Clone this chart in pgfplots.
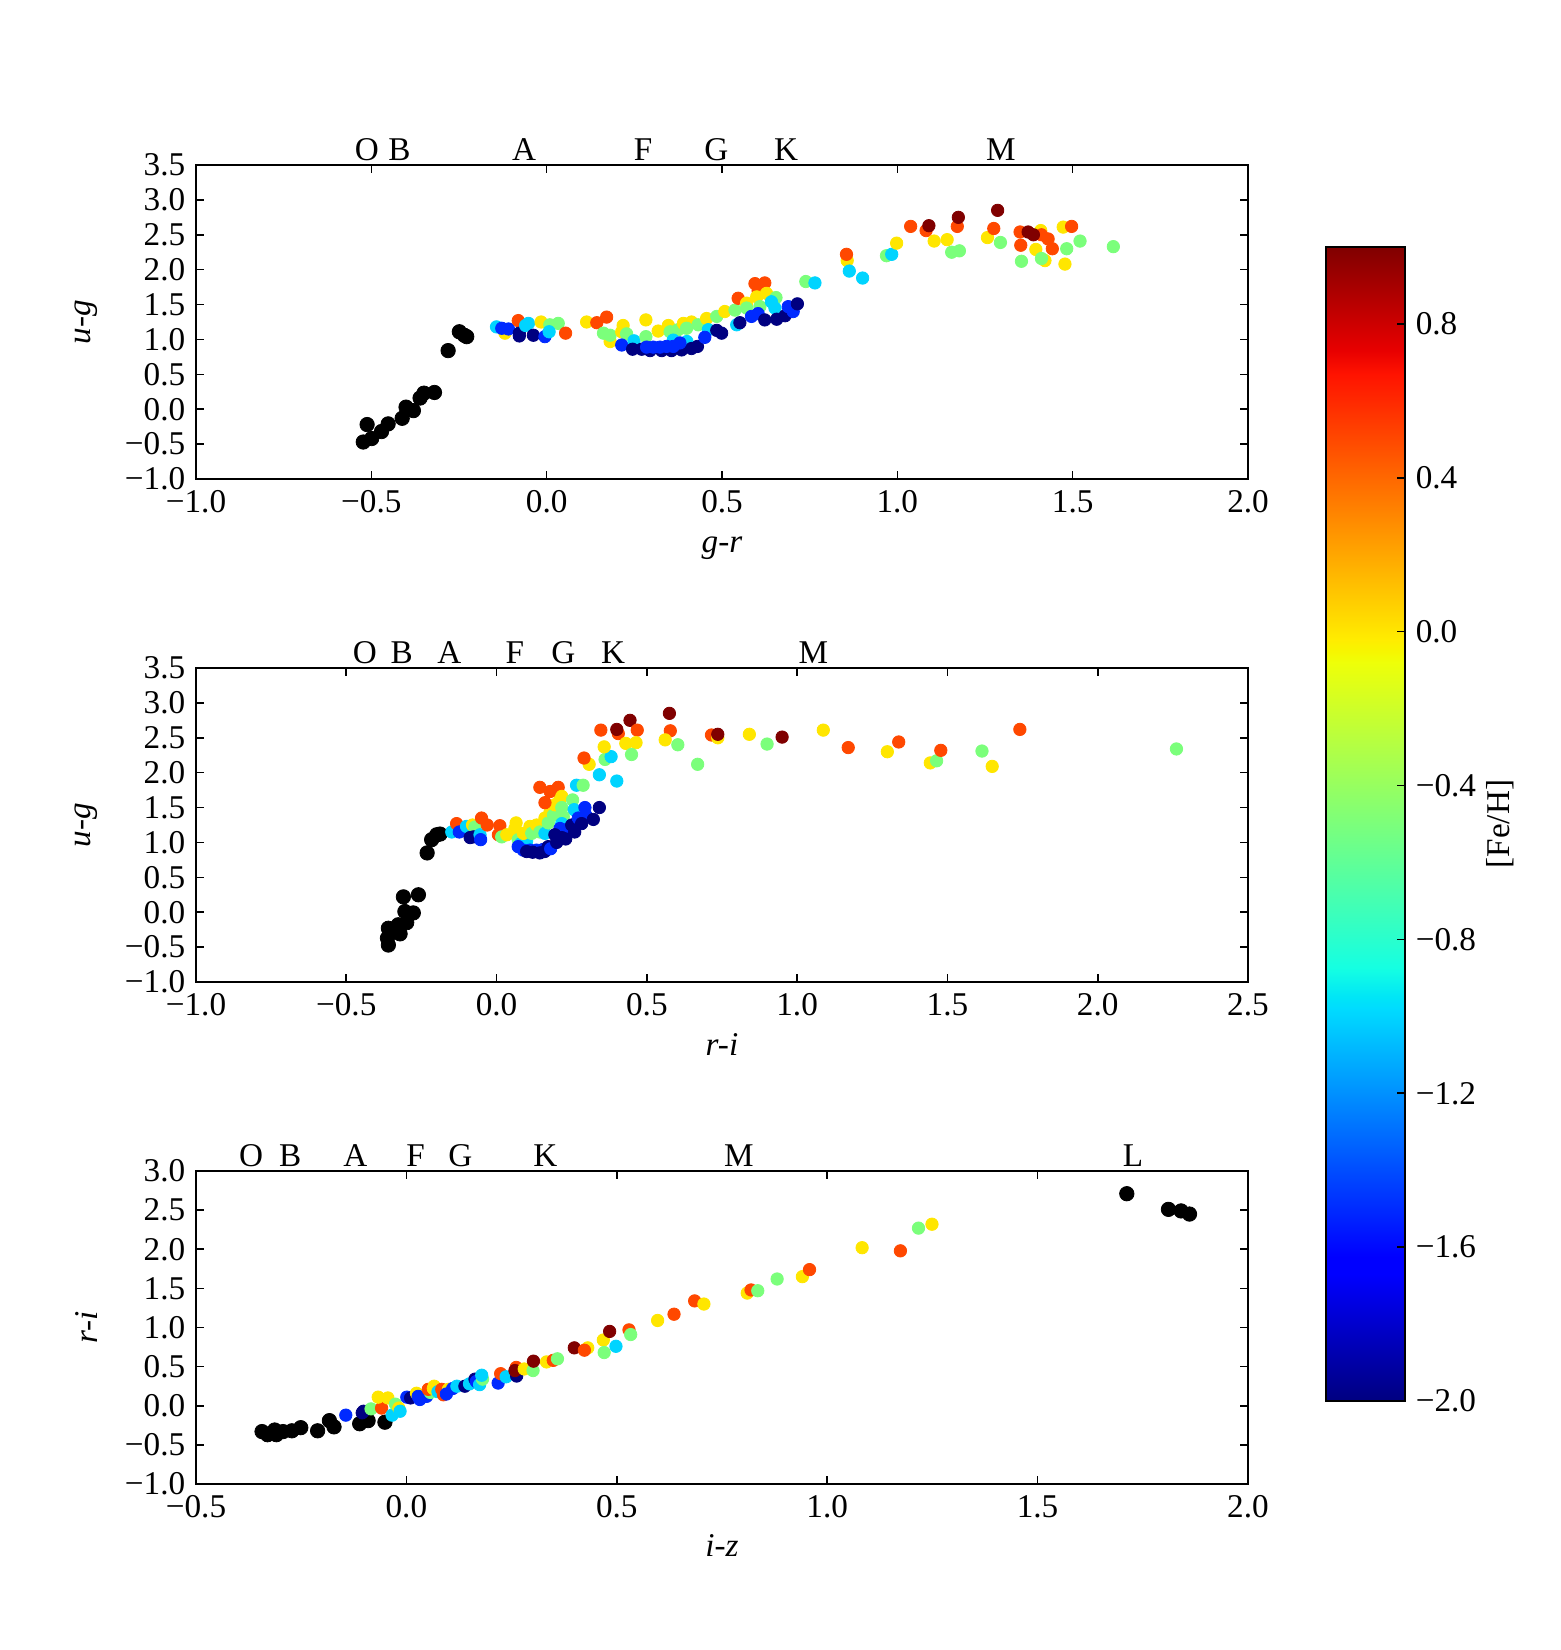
\documentclass[border=0pt]{standalone}
\usepackage{fontspec}
\setmainfont{Liberation Serif}
\usepackage{pgfplots}
\pgfplotsset{compat=1.18}

\newcommand\lbl{\fontsize{8.3}{10}\selectfont}

\tikzset{sptype/.style={anchor=base, inner sep=0pt, yshift=1.1pt, font=\lbl}}

% the same matplotlib-style jet ramp, once as a colormap for the markers
% and once as a vertical shading for the colour bar
\pgfdeclareverticalshading{mpljetbar}{100bp}{%
  rgb(0bp)=(0,0,0.5); rgb(25bp)=(0,0,0.5); rgb(30.5bp)=(0,0,1); rgb(31.25bp)=(0,0,1);
  rgb(42bp)=(0,0.86,1); rgb(42.5bp)=(0,0.9,0.968); rgb(43.75bp)=(0.081,1,0.887);
  rgb(57bp)=(0.935,1,0.032); rgb(57.5bp)=(0.968,0.963,0); rgb(58bp)=(1,0.926,0);
  rgb(69.5bp)=(1,0.074,0); rgb(70.5bp)=(0.909,0,0); rgb(75bp)=(0.5,0,0); rgb(100bp)=(0.5,0,0)}

\pgfplotsset{
  colormap={mpljet}{rgb(0pt)=(0,0,0.5) rgb(110pt)=(0,0,1) rgb(125pt)=(0,0,1)
    rgb(340pt)=(0,0.86,1) rgb(350pt)=(0,0.9,0.968) rgb(375pt)=(0.081,1,0.887)
    rgb(640pt)=(0.935,1,0.032) rgb(650pt)=(0.968,0.963,0) rgb(660pt)=(1,0.926,0)
    rgb(890pt)=(1,0.074,0) rgb(910pt)=(0.909,0,0) rgb(1000pt)=(0.5,0,0)},
  panel/.style={
    scale only axis, width=263pt, anchor=north west,
    tick align=inside, major tick length=2pt,
    axis line style={line width=0.5pt},
    every tick/.style={black, line width=0.4pt},
    minor tick num=0,
    clip=false,
    point meta min=-2, point meta max=1,
    colormap name=mpljet,
    tick label style={font=\lbl},
    label style={font=\lbl},
    xticklabel style={inner sep=0pt, yshift=-2.75pt, anchor=north},
    yticklabel style={inner sep=0pt, xshift=-2.5pt, anchor=east},
    xlabel style={at={(axis description cs:0.5,-0.2325)}, anchor=base, inner sep=0pt},
    ylabel style={at={(axis description cs:-0.093,0.5)}, anchor=south, inner sep=0pt},
  },
  colored/.style={scatter, only marks, mark=*, mark size=1.55pt, line width=0.2pt,
    scatter src=explicit,
    scatter/use mapped color={draw=mapped color, fill=mapped color}},
  stars/.style={only marks, mark=*, mark size=1.8pt, line width=0.2pt,
    draw=black, fill=black},
}

\begin{document}
\begin{tikzpicture}[font=\lbl]
\path[use as bounding box] (0,0) rectangle (390.25pt,-412.5pt);

% ---------------- u-g versus g-r ----------------
\begin{axis}[panel, at={(49pt,-41.25pt)}, height=78.5pt,
  xmin=-1, xmax=2, ymin=-1, ymax=3.5,
  xtick={-1,-0.5,0,0.5,1,1.5,2},
  xticklabels={−1.0,−0.5,0.0,0.5,1.0,1.5,2.0},
  ytick={-1,-0.5,0,0.5,1,1.5,2,2.5,3,3.5},
  yticklabels={−1.0,−0.5,0.0,0.5,1.0,1.5,2.0,2.5,3.0,3.5},
  xlabel={\textit{g-r}}, ylabel={\textit{u-g}},
]
\addplot[stars] table {
x y
-0.523 -0.47
-0.512 -0.22
-0.499 -0.42
-0.471 -0.32
-0.452 -0.21
-0.412 -0.13
-0.401 0.03
-0.380 -0.02
-0.361 0.16
-0.350 0.23
-0.320 0.24
-0.281 0.84
-0.249 1.11
-0.235 1.06
-0.228 1.04
};
\addplot[colored] table[meta=c] {
x y c
-0.143 1.18 -1
-0.119 1.09 0
-0.128 1.16 -1.5
-0.109 1.15 -1.5
-0.081 1.27 0.5
-0.078 1.09 -2
-0.078 1.05 -2
-0.060 1.20 -1
-0.052 1.23 -1
-0.038 1.06 -2
-0.016 1.25 0
0.009 1.21 -0.5
0.033 1.23 -0.5
-0.005 1.04 -1.5
0.007 1.11 -1
0.054 1.09 0.5
0.114 1.25 0
0.143 1.24 0.5
0.171 1.32 0.5
0.181 0.97 0
0.162 1.09 -0.5
0.181 1.06 -0.5
0.218 1.20 0
0.214 1.11 0
0.228 1.08 -0.5
0.214 0.92 -1.5
0.249 0.98 -1
0.245 0.86 -2
0.283 1.28 0
0.283 1.04 -0.5
0.318 1.12 0
0.347 1.20 0
0.352 1.11 -0.5
0.375 1.14 -0.5
0.390 1.23 0
0.413 1.25 0
0.399 1.16 -0.5
0.432 1.21 -0.5
0.361 0.99 -1
0.400 0.97 -1
0.271 0.86 -2
0.295 0.84 -2
0.328 0.84 -2
0.356 0.84 -2
0.385 0.85 -2
0.413 0.87 -2
0.430 0.90 -2
0.285 0.89 -1.5
0.304 0.89 -1.5
0.323 0.89 -1.5
0.342 0.90 -1.5
0.361 0.90 -1.5
0.380 0.95 -1.5
0.456 1.30 0
0.461 1.14 -1
0.451 1.03 -1.5
0.485 1.13 -2
0.499 1.09 -2
0.485 1.33 -0.5
0.508 1.40 0
0.537 1.42 -0.5
0.546 1.59 0.5
0.542 1.21 -1
0.551 1.24 -2
0.570 1.52 0
0.570 1.45 -0.5
0.594 1.80 0.5
0.622 1.81 0.5
0.603 1.70 0.5
0.599 1.61 0
0.627 1.66 0
0.654 1.60 -0.5
0.608 1.47 -0.5
0.641 1.54 -1
0.651 1.45 -1
0.603 1.37 -1.5
0.584 1.33 -1.5
0.622 1.28 -2
0.656 1.29 -2
0.680 1.34 -2
0.689 1.47 -1.5
0.703 1.40 -1.5
0.715 1.51 -2
0.739 1.83 -0.5
0.765 1.81 -1
0.857 2.13 0
0.855 2.22 0.5
0.863 1.98 -1
0.901 1.88 -1
0.969 2.20 -0.5
0.984 2.22 -1
0.998 2.38 0
1.038 2.62 0.5
1.082 2.56 0.5
1.090 2.63 1
1.105 2.41 0
1.142 2.43 0
1.155 2.25 -0.5
1.177 2.27 -0.5
1.171 2.62 0.5
1.174 2.75 1
1.257 2.46 0
1.275 2.59 0.5
1.286 2.85 1
1.294 2.39 -0.5
1.350 2.54 0.5
1.373 2.54 1
1.409 2.56 0
1.411 2.50 0.5
1.388 2.50 1
1.430 2.44 0.5
1.442 2.30 0.5
1.352 2.35 0.5
1.354 2.12 -0.5
1.395 2.29 0
1.421 2.13 0
1.411 2.16 -0.5
1.473 2.61 0
1.497 2.62 0.5
1.483 2.30 -0.5
1.478 2.08 0
1.521 2.41 -0.5
1.616 2.33 -0.5
};
\node[sptype] at (axis cs:-0.513,3.5) {O};
\node[sptype] at (axis cs:-0.420,3.5) {B};
\node[sptype] at (axis cs:-0.064,3.5) {A};
\node[sptype] at (axis cs:0.275,3.5) {F};
\node[sptype] at (axis cs:0.484,3.5) {G};
\node[sptype] at (axis cs:0.683,3.5) {K};
\node[sptype] at (axis cs:1.295,3.5) {M};
\end{axis}

% ---------------- u-g versus r-i ----------------
\begin{axis}[panel, at={(49pt,-167pt)}, height=78.5pt,
  xmin=-1, xmax=2.5, ymin=-1, ymax=3.5,
  xtick={-1,-0.5,0,0.5,1,1.5,2,2.5},
  xticklabels={−1.0,−0.5,0.0,0.5,1.0,1.5,2.0,2.5},
  ytick={-1,-0.5,0,0.5,1,1.5,2,2.5,3,3.5},
  yticklabels={−1.0,−0.5,0.0,0.5,1.0,1.5,2.0,2.5,3.0,3.5},
  xlabel={\textit{r-i}}, ylabel={\textit{u-g}},
]
\addplot[stars] table {
x y
-0.360 -0.47
-0.363 -0.37
-0.360 -0.23
-0.321 -0.31
-0.327 -0.18
-0.299 -0.15
-0.305 0.01
-0.277 -0.01
-0.310 0.22
-0.260 0.25
-0.231 0.85
-0.216 1.04
-0.199 1.11
-0.188 1.12
};
\addplot[colored] table[meta=c] {
x y c
-0.149 1.15 -1
-0.133 1.27 0.5
-0.124 1.15 -1.5
-0.100 1.23 -1
-0.080 1.25 0
-0.072 1.22 -0.5
-0.088 1.07 -2
-0.077 1.08 -2
-0.055 1.11 -1
-0.053 1.04 -1.5
-0.050 1.35 0.5
-0.031 1.25 0.5
0.011 1.24 0.5
0.006 1.11 0.5
0.017 1.08 -0.5
0.034 1.11 0
0.065 1.28 0
0.061 1.20 0
0.072 1.04 -0.5
0.080 0.98 -1
0.100 1.02 -1
0.072 0.94 -1.5
0.089 0.89 -1.5
0.111 0.89 -1.5
0.133 0.89 -1.5
0.155 0.90 -1.5
0.100 0.87 -2
0.120 0.86 -2
0.144 0.85 -2
0.160 0.87 -2
0.172 0.94 -2
0.089 1.13 0
0.111 1.23 0
0.117 1.13 -0.5
0.133 1.25 0
0.144 1.15 -0.5
0.161 1.13 -1
0.161 1.35 0
0.172 1.28 -0.5
0.178 1.44 0
0.189 1.39 -0.5
0.194 1.54 0
0.211 1.62 0
0.144 1.79 0.5
0.161 1.57 0.5
0.178 1.73 0.5
0.205 1.79 0.5
0.217 1.66 0
0.217 1.50 -0.5
0.253 1.61 -0.5
0.258 1.47 -1
0.222 1.37 -0.5
0.217 1.27 -1
0.180 0.91 -1.5
0.211 1.20 -1.5
0.240 1.20 -1.5
0.200 1.00 -2
0.194 1.11 -2
0.217 1.07 -2
0.230 1.05 -2
0.260 1.15 -2
0.250 1.25 -2
0.272 1.35 -1.5
0.294 1.50 -1.5
0.297 1.39 -1.5
0.283 1.27 -2
0.322 1.33 -2
0.342 1.50 -2
0.266 1.82 -1
0.288 1.82 -0.5
0.308 2.12 0
0.291 2.21 0.5
0.342 1.97 -1
0.400 1.88 -1
0.361 2.19 -0.5
0.381 2.23 -1
0.358 2.37 0
0.347 2.61 0.5
0.405 2.56 0.5
0.400 2.62 1
0.444 2.75 1
0.468 2.61 0.5
0.430 2.42 0
0.464 2.43 0
0.449 2.26 -0.5
0.575 2.85 1
0.578 2.60 0.5
0.561 2.47 0
0.603 2.40 -0.5
0.669 2.12 -0.5
0.715 2.54 0.5
0.736 2.50 0
0.736 2.55 1
0.841 2.55 0
0.900 2.41 -0.5
0.950 2.51 1
1.087 2.61 0
1.170 2.36 0.5
1.300 2.30 0
1.338 2.44 0.5
1.443 2.14 0
1.464 2.17 -0.5
1.478 2.32 0.5
1.615 2.31 -0.5
1.649 2.09 0
1.741 2.62 0.5
2.262 2.34 -0.5
};
\node[sptype] at (axis cs:-0.438,3.5) {O};
\node[sptype] at (axis cs:-0.316,3.5) {B};
\node[sptype] at (axis cs:-0.157,3.5) {A};
\node[sptype] at (axis cs:0.061,3.5) {F};
\node[sptype] at (axis cs:0.222,3.5) {G};
\node[sptype] at (axis cs:0.388,3.5) {K};
\node[sptype] at (axis cs:1.054,3.5) {M};
\end{axis}

% ---------------- r-i versus i-z ----------------
\begin{axis}[panel, at={(49pt,-292.75pt)}, height=78.25pt,
  xmin=-0.5, xmax=2, ymin=-1, ymax=3,
  xtick={-0.5,0,0.5,1,1.5,2},
  xticklabels={−0.5,0.0,0.5,1.0,1.5,2.0},
  ytick={-1,-0.5,0,0.5,1,1.5,2,2.5,3},
  yticklabels={−1.0,−0.5,0.0,0.5,1.0,1.5,2.0,2.5,3.0},
  xlabel={\textit{i-z}}, ylabel={\textit{r-i}},
]
\addplot[stars] table {
x y
-0.343 -0.33
-0.330 -0.37
-0.313 -0.31
-0.309 -0.37
-0.293 -0.33
-0.272 -0.32
-0.251 -0.28
-0.211 -0.32
-0.183 -0.19
-0.172 -0.27
-0.111 -0.23
-0.091 -0.19
-0.051 -0.21
1.712 2.71
1.811 2.51
1.841 2.49
1.861 2.45
};
\addplot[colored] table[meta=c] {
x y c
-0.144 -0.12 -1.5
-0.105 -0.09 -2
-0.102 -0.07 -2
-0.084 -0.04 -0.5
-0.059 -0.03 0.5
-0.034 -0.12 -1
-0.067 0.11 0
-0.044 0.10 0
-0.026 0.02 -0.5
-0.018 -0.03 0
-0.015 -0.07 -1
0.001 0.11 -1.5
0.010 0.10 -2
0.024 0.16 0
0.028 0.12 -1.5
0.032 0.08 -1.5
0.048 0.12 -1.5
0.057 0.17 -0.5
0.052 0.21 0.5
0.064 0.22 0
0.066 0.25 0
0.075 0.18 -1
0.084 0.21 0.5
0.088 0.14 0.5
0.100 0.21 0
0.095 0.15 -1.5
0.110 0.22 -1.5
0.120 0.25 -1
0.139 0.25 -2
0.150 0.28 -1
0.163 0.34 -2
0.166 0.31 -1.5
0.174 0.27 -1
0.181 0.34 -0.5
0.179 0.39 -1
0.218 0.29 -1.5
0.224 0.41 0.5
0.237 0.37 -1
0.262 0.38 -2
0.261 0.49 0.5
0.258 0.45 1
0.280 0.47 0
0.301 0.45 -0.5
0.302 0.57 1
0.333 0.56 0
0.349 0.58 0.5
0.359 0.60 -0.5
0.399 0.74 1
0.431 0.74 0
0.423 0.71 0.5
0.468 0.84 0
0.470 0.68 -0.5
0.483 0.95 1
0.498 0.76 -1
0.529 0.97 0.5
0.533 0.91 -0.5
0.597 1.09 0
0.636 1.17 0.5
0.685 1.34 0.5
0.707 1.30 0
0.810 1.44 0
0.819 1.48 0.5
0.835 1.47 -0.5
0.881 1.62 -0.5
0.941 1.65 0
0.958 1.74 0.5
1.083 2.02 0
1.174 1.98 0.5
1.217 2.27 -0.5
1.249 2.32 0
};
\node[sptype] at (axis cs:-0.369,3) {O};
\node[sptype] at (axis cs:-0.276,3) {B};
\node[sptype] at (axis cs:-0.121,3) {A};
\node[sptype] at (axis cs:0.022,3) {F};
\node[sptype] at (axis cs:0.128,3) {G};
\node[sptype] at (axis cs:0.330,3) {K};
\node[sptype] at (axis cs:0.790,3) {M};
\node[sptype] at (axis cs:1.727,3) {L};
\end{axis}

% ---------------- colour bar for [Fe/H] ----------------
\begin{axis}[at={(331.5pt,-61.75pt)}, anchor=north west,
  scale only axis, width=19.75pt, height=288.5pt,
  xmin=0, xmax=1, ymin=-2, ymax=1,
  axis on top,
  xtick=\empty,
  ytick={-2,-1.6,-1.2,-0.8,-0.4,0,0.4,0.8},
  yticklabels={−2.0,−1.6,−1.2,−0.8,−0.4,0.0,0.4,0.8},
  ytick pos=right, yticklabel pos=right,
  tick align=inside, major tick length=2pt,
  every tick/.style={black, line width=0.4pt},
  axis line style={line width=0.5pt},
  yticklabel style={font=\lbl, inner sep=0pt, xshift=2.5pt, anchor=west},
  ylabel={[Fe/H]},
  every axis y label/.style={at={(axis description cs:2.2,0.5)}, anchor=center, rotate=90, font=\lbl},
]
\fill[shading=mpljetbar] (axis cs:0,-2) rectangle (axis cs:1,1);
\end{axis}
\end{tikzpicture}
\end{document}
